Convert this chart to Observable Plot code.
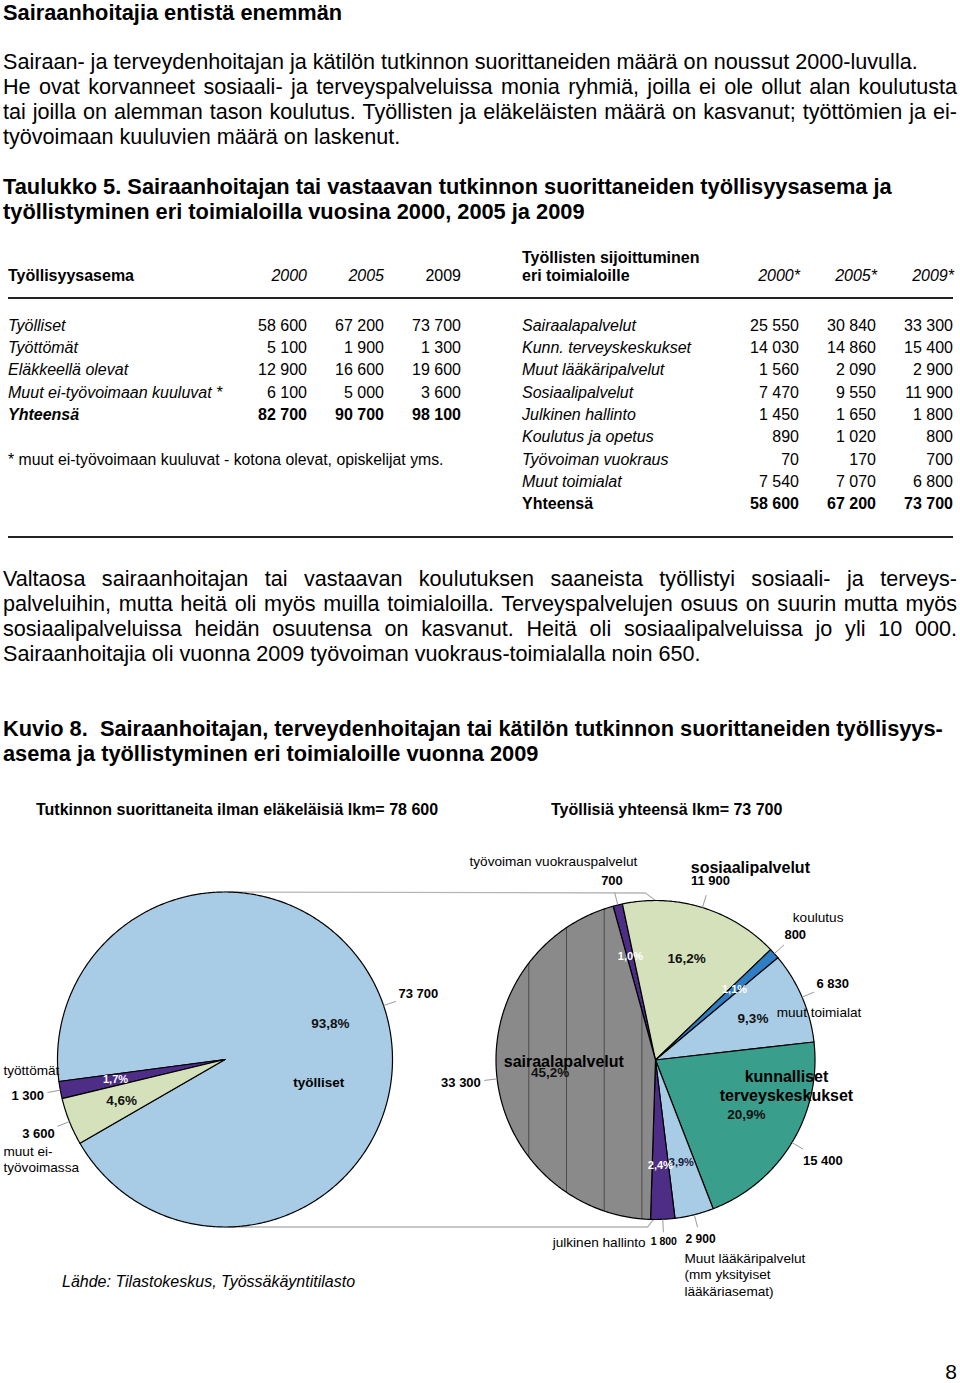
<!DOCTYPE html>
<html><head><meta charset="utf-8">
<script src="https://cdn.jsdelivr.net/npm/d3@7"></script>
<script src="https://cdn.jsdelivr.net/npm/@observablehq/plot@0.6"></script>
<style>
body{margin:0;background:#fff;}
#page{position:relative;width:960px;height:1383px;font-family:"Liberation Sans",Arial,Helvetica,sans-serif;color:#000;overflow:hidden;background:#fff}
.abs{position:absolute;white-space:pre}
.j{text-align:justify;text-align-last:justify;white-space:normal}
.rule{position:absolute;height:2px;background:#222}
#fig{position:absolute;left:0;top:830px}
</style></head>
<body><div id="page"></div>
<script>
// ---------- DATA ----------
const statusRows = ["Työlliset","Työttömät","Eläkkeellä olevat","Muut ei-työvoimaan kuuluvat *","Yhteensä"];
const status2000 = [58600,5100,12900,6100,82700];
const status2005 = [67200,1900,16600,5000,90700];
const status2009 = [73700,1300,19600,3600,98100];
const industryRows = ["Sairaalapalvelut","Kunn. terveyskeskukset","Muut lääkäripalvelut","Sosiaalipalvelut","Julkinen hallinto","Koulutus ja opetus","Työvoiman vuokraus","Muut toimialat","Yhteensä"];
const ind2000 = [25550,14030,1560,7470,1450,890,70,7540,58600];
const ind2005 = [30840,14860,2090,9550,1650,1020,170,7070,67200];
const ind2009 = [33300,15400,2900,11900,1800,800,700,6800,73700];
const statusYears = ["2000","2005","2009"];
const industryYears = ["2000*","2005*","2009*"];

// pie 1 (employment status 2009, without pensioners)
const pie1Labels = ["työlliset","työttömät","muut ei-työvoimassa"];
const pie1Values = [73700,1300,3600];
// pie 2 (employed by industry 2009), clockwise drawing order
const pie2Labels = ["työvoiman vuokrauspalvelut","sosiaalipalvelut","koulutus","muut toimialat","kunnalliset terveyskeskukset","Muut lääkäripalvelut","julkinen hallinto","sairaalapalvelut"];
const pie2Values = [700,11900,800,6830,15400,2900,1800,33300];

// ---------- STYLE / LAYOUT ----------
const FONT = '"Liberation Sans",Arial,Helvetica,sans-serif';
const LB = "#a8cce5", PU = "#4e2d86", GR = "#d5e1bb", BL = "#2f7dc2", TE = "#3a9e8d";
const sliceColor = {
  "työlliset": LB, "työttömät": PU, "muut ei-työvoimassa": GR,
  "työvoiman vuokrauspalvelut": PU, "sosiaalipalvelut": GR, "koulutus": BL, "muut toimialat": LB,
  "kunnalliset terveyskeskukset": TE, "Muut lääkäripalvelut": LB, "julkinen hallinto": PU,
  "sairaalapalvelut": "url(#stripes)"
};
const pctStyle = {
  "työttömät": {fill: "#fff", size: 11}, "työvoiman vuokrauspalvelut": {fill: "#fff", size: 11},
  "koulutus": {fill: "#fff", size: 11}, "julkinen hallinto": {fill: "#fff", size: 11},
  "Muut lääkäripalvelut": {fill: "#1a1a3a", size: 11}
};
const valueSize = {"julkinen hallinto": 10.5, "Muut lääkäripalvelut": 12};
// category name placement: polar angle (deg, clockwise from 12 o'clock) and radius factor
const catLayout = {
  "työlliset": {text: "työlliset", ang: 103.6, rf: 0.576, anchor: "middle", weight: "bold", size: 13.5},
  "työttömät": {text: "työttömät", ang: 267.4, rf: 1.324, anchor: "start", weight: "normal", size: 13.6},
  "muut ei-työvoimassa": {text: "muut ei-\ntyövoimassa", ang: 245.8, rf: 1.45, anchor: "start", weight: "normal", size: 13.6, lh: 1.13},
  "työvoiman vuokrauspalvelut": {text: "työvoiman vuokrauspalvelut", ang: 332.9, rf: 1.405, anchor: "middle", weight: "normal", size: 13.6},
  "sosiaalipalvelut": {text: "sosiaalipalvelut", ang: 26.1, rf: 1.352, anchor: "middle", weight: "bold", size: 16},
  "koulutus": {text: "koulutus", ang: 48.7, rf: 1.357, anchor: "middle", weight: "normal", size: 13.6},
  "muut toimialat": {text: "muut toimialat", ang: 73.7, rf: 1.068, anchor: "middle", weight: "normal", size: 13.6},
  "kunnalliset terveyskeskukset": {text: "kunnalliset\nterveyskeskukset", ang: 100.8, rf: 0.836, anchor: "middle", weight: "bold", size: 16, lh: 1.19},
  "Muut lääkäripalvelut": {text: "Muut lääkäripalvelut\n(mm yksityiset\nlääkäriasemat)", ang: 172.3, rf: 1.354, anchor: "start", weight: "normal", size: 13.6, lh: 1.21},
  "julkinen hallinto": {text: "julkinen hallinto", ang: 183.1, rf: 1.144, anchor: "end", weight: "normal", size: 13.6},
  "sairaalapalvelut": {text: "sairaalapalvelut", ang: 269.7, rf: 0.575, anchor: "middle", weight: "bold", size: 16}
};
const geom1 = {cx: 224.5, cy: 1059, r: 167.5, start: 240, end: -120};
const geom2 = {cx: 655, cy: 1059.5, r: 159.5, start: -15.4, end: 344.6};

// ---------- HELPERS ----------
const loc = d3.formatLocale({decimal: ",", thousands: " ", grouping: [3], currency: ["", ""]});
const fmtNum = loc.format(",");
const fmtPct = v => loc.format(".1f")(v * 100) + "%";
const page = document.getElementById("page");
const cnv = document.createElement("canvas").getContext("2d");
function textW(t, size, weight="normal", style="normal") { cnv.font = `${style} ${weight} ${size}px ${FONT}`; return cnv.measureText(t).width; }

function put(text, o) {
  const d = document.createElement("div");
  d.className = "abs";
  d.textContent = text;
  let size = o.size || 21.6;
  const x = o.x ?? 3;
  if (o.justify) {
    const avail = 957 - x - 2, nat = textW(text, size, o.weight || "normal", o.style || "normal");
    if (nat > avail) size = size * avail / nat;
  }
  const lh = Math.round(size * 1.25);
  d.style.fontSize = size + "px"; d.style.lineHeight = lh + "px";
  d.style.top = (o.y - lh / 2) + "px";
  d.style.fontWeight = o.weight || "normal"; d.style.fontStyle = o.style || "normal";
  if (o.anchor === "end") { d.style.left = (o.x - 400) + "px"; d.style.width = "400px"; d.style.textAlign = "right"; }
  else d.style.left = x + "px";
  if (o.justify) { d.style.width = (957 - x) + "px"; d.classList.add("j"); d.style.height = lh + "px"; }
  page.appendChild(d);
  return d;
}
function rule(y, x0, x1) { const r = document.createElement("div"); r.className = "rule"; r.style.top = (y - 1) + "px"; r.style.left = x0 + "px"; r.style.width = (x1 - x0) + "px"; page.appendChild(r); }

// ---------- PAGE TEXT ----------
const BODY = 21.6, HEAD = 21.8;
put("Sairaanhoitajia entistä enemmän", {y: 12, size: HEAD, weight: "bold"});
put("Sairaan- ja terveydenhoitajan ja kätilön tutkinnon suorittaneiden määrä on noussut 2000-luvulla.", {y: 61, size: BODY});
put("He ovat korvanneet sosiaali- ja terveyspalveluissa monia ryhmiä, joilla ei ole ollut alan koulutusta", {y: 86, size: BODY, justify: true});
put("tai joilla on alemman tason koulutus. Työllisten ja eläkeläisten määrä on kasvanut; työttömien ja ei-", {y: 111, size: BODY, justify: true});
put("työvoimaan kuuluvien määrä on laskenut.", {y: 136, size: BODY});
put("Taulukko 5. Sairaanhoitajan tai vastaavan tutkinnon suorittaneiden työllisyysasema ja", {y: 186, size: HEAD, weight: "bold"});
put("työllistyminen eri toimialoilla vuosina 2000, 2005 ja 2009", {y: 211, size: HEAD, weight: "bold"});

// table
const TS = 16;
put("Työllisyysasema", {x: 8, y: 276, size: TS, weight: "bold"});
put("Työllisten sijoittuminen", {x: 522, y: 258, size: TS, weight: "bold"});
put("eri toimialoille", {x: 522, y: 276, size: TS, weight: "bold"});
const leftCols = [307, 384, 461], rightCols = [799, 876, 953];
statusYears.forEach((t, i) => put(t, {x: leftCols[i], y: 276, size: TS, anchor: "end", style: i < 2 ? "italic" : "normal"}));
industryYears.forEach((t, i) => put(t, {x: rightCols[i] + 1, y: 276, size: TS, anchor: "end", style: "italic"}));
rule(298, 8, 953);
const rowY = i => 325.5 + i * 22.35;
statusRows.forEach((lab, i) => {
  const last = i === statusRows.length - 1;
  put(lab, {x: 8, y: rowY(i), size: TS, style: "italic", weight: last ? "bold" : "normal"});
  [status2000, status2005, status2009].forEach((arr, j) => put(fmtNum(arr[i]), {x: leftCols[j], y: rowY(i), size: TS, anchor: "end", weight: last ? "bold" : "normal"}));
});
industryRows.forEach((lab, i) => {
  const last = i === industryRows.length - 1;
  put(lab, {x: 522, y: rowY(i), size: TS, style: last ? "normal" : "italic", weight: last ? "bold" : "normal"});
  [ind2000, ind2005, ind2009].forEach((arr, j) => put(fmtNum(arr[i]), {x: rightCols[j], y: rowY(i), size: TS, anchor: "end", weight: last ? "bold" : "normal"}));
});
put("* muut ei-työvoimaan kuuluvat - kotona olevat, opiskelijat yms.", {x: 8, y: 459.5, size: 15.8});
rule(537, 8, 953);

put("Valtaosa sairaanhoitajan tai vastaavan koulutuksen saaneista työllistyi sosiaali- ja terveys-", {y: 578, size: BODY, justify: true});
put("palveluihin, mutta heitä oli myös muilla toimialoilla. Terveyspalvelujen osuus on suurin mutta  myös", {y: 603, size: BODY, justify: true});
put("sosiaalipalveluissa heidän osuutensa on kasvanut. Heitä oli sosiaalipalveluissa jo yli 10 000.", {y: 628, size: BODY, justify: true});
put("Sairaanhoitajia oli vuonna 2009 työvoiman vuokraus-toimialalla noin 650.", {y: 653, size: BODY});
put("Kuvio 8.  Sairaanhoitajan, terveydenhoitajan tai kätilön tutkinnon suorittaneiden työllisyys-", {y: 728, size: HEAD, weight: "bold"});
put("asema ja työllistyminen eri toimialoille vuonna 2009", {y: 753, size: HEAD, weight: "bold"});
put("Tutkinnon suorittaneita ilman eläkeläisiä lkm= " + fmtNum(d3.sum(pie1Values)), {x: 36, y: 810, size: 16, weight: "bold"});
put("Työllisiä yhteensä lkm= " + fmtNum(pie1Values[0]), {x: 551, y: 810, size: 16, weight: "bold"});
put("Lähde: Tilastokeskus, Työssäkäyntitilasto", {x: 62, y: 1282, size: 16, style: "italic"});
put("8", {x: 957, y: 1372, size: 21, anchor: "end"});

// ---------- PIES ----------
const rad = d => d * Math.PI / 180;
const pol = (g, a, r) => ({x: g.cx + r * Math.sin(a), y: g.cy - r * Math.cos(a)});
function slices(labels, values, g) {
  const total = d3.sum(values);
  const arcs = d3.pie().sort(null).startAngle(rad(g.start)).endAngle(rad(g.end))(values);
  return arcs.map((a, i) => {
    const a0 = a.startAngle, a1 = a.endAngle;
    const n = Math.max(2, Math.ceil(Math.abs(a1 - a0) / rad(0.5)));
    const pts = [{x: g.cx, y: g.cy}];
    for (let k = 0; k <= n; k++) pts.push(pol(g, a0 + (a1 - a0) * k / n, g.r));
    pts.push({x: g.cx, y: g.cy});
    return {label: labels[i], value: values[i], share: values[i] / total, mid: (a0 + a1) / 2, pts, g};
  });
}
const s1 = slices(pie1Labels, pie1Values, geom1);
const s2 = slices(pie2Labels, pie2Values, geom2);
const all = [...s1, ...s2];

const pctData = all.map(s => {
  const st = pctStyle[s.label] || {fill: "#111", size: 13.5};
  return {...pol(s.g, s.mid, 0.665 * s.g.r), text: fmtPct(s.share), fill: st.fill, size: st.size};
});
const valData = all.map(s => {
  const size = valueSize[s.label] || 13;
  const w = textW(fmtNum(s.value), size, "bold");
  const r = s.g.r + 16 + (w / 2) * Math.abs(Math.sin(s.mid)) + 6 * Math.abs(Math.cos(s.mid));
  return {...pol(s.g, s.mid, r), text: fmtNum(s.value), size};
});
const leaderData = all.map(s => {
  const p0 = pol(s.g, s.mid, s.g.r), p1 = pol(s.g, s.mid, s.g.r + 13);
  return {x1: p0.x, y1: p0.y, x2: p1.x, y2: p1.y};
});
const catData = all.map(s => {
  const c = catLayout[s.label];
  return {...pol(s.g, rad(c.ang), c.rf * s.g.r), ...c};
});
const connTop = [{x: geom1.cx, y: geom1.cy - geom1.r}, {x: geom2.cx - 10, y: geom1.cy - geom1.r + 1}, {x: geom2.cx, y: geom2.cy - geom2.r}];
const connBot = [{x: geom1.cx, y: geom1.cy + geom1.r}, {x: geom2.cx - 8, y: geom1.cy + geom1.r}, {x: geom2.cx - 2, y: geom2.cy + geom2.r}];

const fig = Plot.plot({
  width: 960, height: 480, margin: 0,
  x: {domain: [0, 960], range: [0, 960], axis: null},
  y: {domain: [830, 1310], range: [0, 480], axis: null},
  style: {fontFamily: FONT, background: "transparent", overflow: "visible"},
  marks: [
    Plot.line(connTop, {x: "x", y: "y", stroke: "#b5b5b5", strokeWidth: 1.3}),
    Plot.line(connBot, {x: "x", y: "y", stroke: "#b5b5b5", strokeWidth: 1.3}),
    ...all.map(s => Plot.line(s.pts, {x: "x", y: "y", fill: sliceColor[s.label], stroke: "#000", strokeWidth: 1.2, strokeLinejoin: "round"})),
    Plot.link(leaderData, {x1: "x1", y1: "y1", x2: "x2", y2: "y2", stroke: "#9a9a9a", strokeWidth: 1}),
    ...catData.map(d => Plot.text([d], {x: "x", y: "y", text: "text", textAnchor: d.anchor, fontWeight: d.weight, fontSize: d.size, lineHeight: d.lh || 1.2, fill: "#000", lineAnchor: "middle"})),
    ...pctData.map(d => Plot.text([d], {x: "x", y: "y", text: "text", fontWeight: "bold", fontSize: d.size, fill: d.fill, lineAnchor: "middle"})),
    ...valData.map(d => Plot.text([d], {x: "x", y: "y", text: "text", fontWeight: "bold", fontSize: d.size, fill: "#000", lineAnchor: "middle"}))
  ]
});
fig.id = "fig";
const ns = "http://www.w3.org/2000/svg";
const defs = document.createElementNS(ns, "defs");
defs.innerHTML = '<pattern id="stripes" patternUnits="userSpaceOnUse" x="0" y="0" width="37.7" height="20"><rect width="37.7" height="20" fill="#8a8a8a"/><line x1="0.5" y1="0" x2="0.5" y2="20" stroke="#4a4a4a" stroke-width="1"/></pattern>';
fig.insertBefore(defs, fig.firstChild);
page.appendChild(fig);
</script>
</body></html>
